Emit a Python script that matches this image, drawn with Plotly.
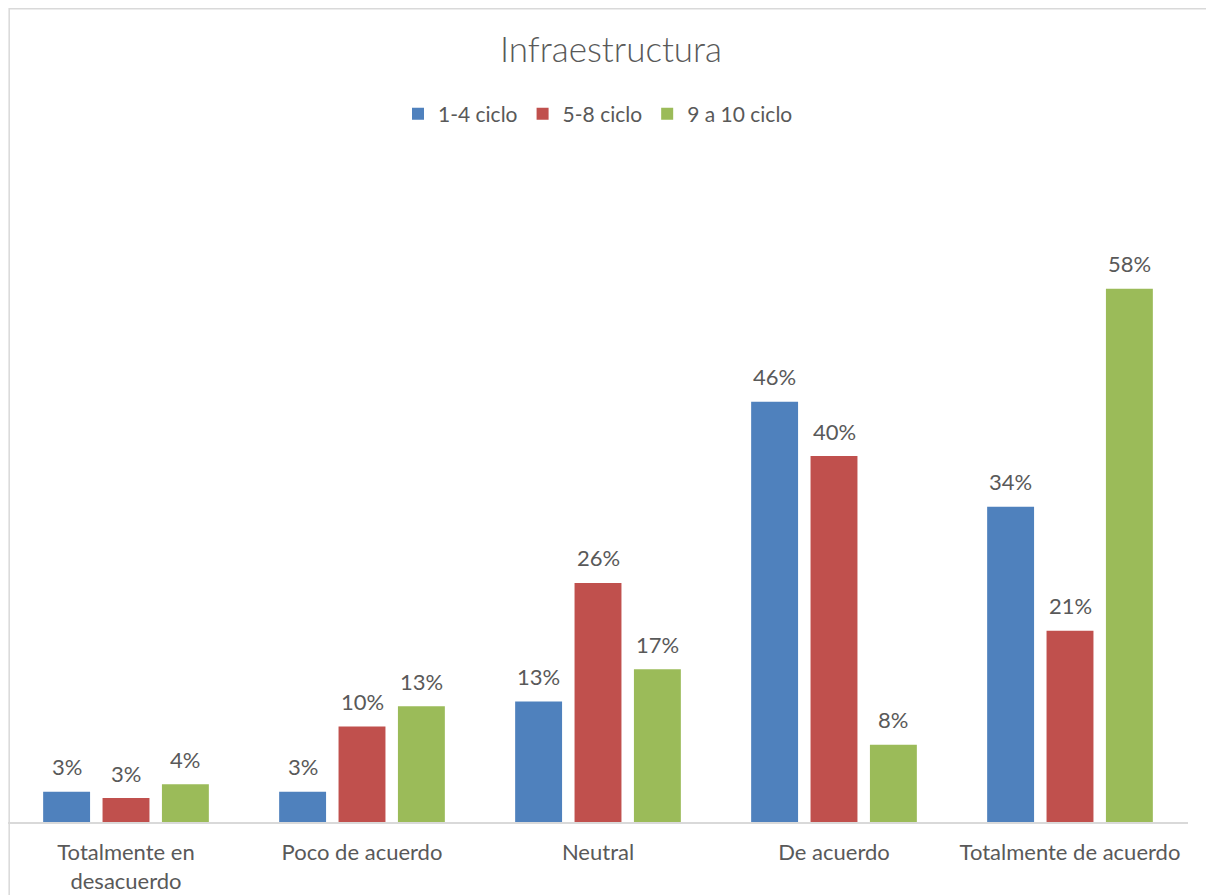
import plotly.graph_objects as go

categories = ["Totalmente en<br>desacuerdo", "Poco de acuerdo", "Neutral", "De acuerdo", "Totalmente de acuerdo"]
series_names = ["1-4 ciclo", "5-8 ciclo", "9 a 10 ciclo"]
v_1_4 = [0.033, 0.033, 0.131, 0.457, 0.343]
v_5_8 = [0.026, 0.104, 0.260, 0.398, 0.208]
v_9_10 = [0.041, 0.126, 0.166, 0.084, 0.580]
colors = ["#4F81BD", "#C0504D", "#9BBB59"]

FONT = "Lato"
TXT = "#595959"

W, H = 1206, 887
ML, MR, MT, MB = 0, 26, 152, 73
plot_w = W - ML - MR
BARGAP = 0.245
slot_px = plot_w / len(categories) * (1 - BARGAP) / len(series_names)

fig = go.Figure()
annotations = []
for i, (name, vals, col) in enumerate(zip(series_names, [v_1_4, v_5_8, v_9_10], colors)):
    fig.add_trace(go.Bar(
        x=categories, y=vals, name=name,
        marker=dict(color=col, line=dict(width=0)),
    ))
    for c, v in zip(categories, vals):
        annotations.append(dict(
            x=c, y=v, xref="x", yref="y", text=f"{round(v*100)}%", showarrow=False,
            xshift=(i - (len(series_names) - 1) / 2) * slot_px, yshift=25,
            xanchor="center", yanchor="middle",
            font=dict(family=FONT, size=22, color=TXT),
        ))

fig.update_layout(
    width=W, height=H,
    paper_bgcolor="white", plot_bgcolor="white",
    margin=dict(l=ML, r=MR, t=MT, b=MB),
    barmode="group", bargap=BARGAP, bargroupgap=0.21,
    title=dict(text="Infraestructura", x=0.5, xanchor="center", y=0.9527, yanchor="middle",
               font=dict(family=FONT, size=35, color=TXT, weight=300)),
    legend=dict(orientation="h", x=0.5, xanchor="center", y=1.0695, yanchor="middle",
                font=dict(family=FONT, size=21, color=TXT), itemwidth=30,
                traceorder="normal"),
    annotations=annotations,
    shapes=[dict(type="rect", xref="paper", yref="paper", x0=0.001, x1=1.01695, y0=-0.2, y1=1.2285,
                 line=dict(color="#D9D9D9", width=1.5), fillcolor="rgba(0,0,0,0)", layer="below")],
)
fig.update_xaxes(showline=True, linecolor="#D9D9D9", linewidth=1.5, ticks="", showgrid=False,
                 ticklabelstandoff=10,
                 tickfont=dict(family=FONT, size=22, color=TXT))
fig.update_yaxes(range=[0, 0.72], visible=False, showgrid=False, zeroline=False)

fig.write_html("out.html")
